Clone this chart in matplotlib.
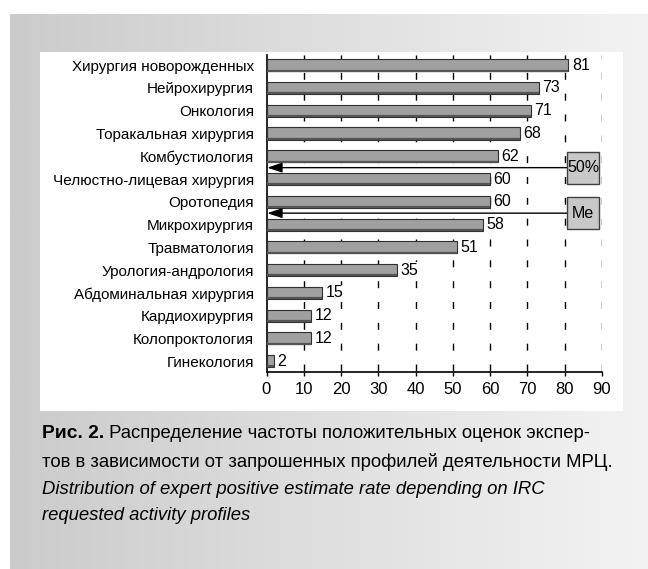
import matplotlib
matplotlib.use('Agg')

import numpy as np
import matplotlib.pyplot as plt
from matplotlib.colors import LinearSegmentedColormap
from matplotlib.patches import Rectangle

categories = [
    "Хирургия новорожденных", "Нейрохирургия", "Онкология",
    "Торакальная хирургия", "Комбустиология", "Челюстно-лицевая хирургия",
    "Оротопедия", "Микрохирургия", "Травматология", "Урология-андрология",
    "Абдоминальная хирургия", "Кардиохирургия", "Колопроктология", "Гинекология",
]
values = [81, 73, 71, 68, 62, 60, 60, 58, 51, 35, 15, 12, 12, 2]
x_ticks = [0, 10, 20, 30, 40, 50, 60, 70, 80, 90]
# reference lines: label, position between rows
ref_lines = [("50%", 4.5), ("Me", 6.5)]

caption_bold = "Рис. 2."
caption_ru_1 = " Распределение частоты положительных оценок экспер-"
caption_ru_2 = "тов в зависимости от запрошенных профилей деятельности МРЦ."
caption_en_1 = "Distribution of expert positive estimate rate depending on IRC"
caption_en_2 = "requested activity profiles"

plt.rcParams['font.family'] = ['Liberation Sans', 'DejaVu Sans']

W, H = 648, 569
fig = plt.figure(figsize=(W / 100, H / 100), dpi=100)
fig.patch.set_facecolor("white")
renderer = fig.canvas.get_renderer()


def fx(px):
    return px / W


def fy(py):
    return 1 - py / H


def fit_size(text, width_px, **kw):
    # font size that makes the text about width_px wide
    t = fig.text(0, 0, text, fontsize=10, **kw)
    w = t.get_window_extent(renderer).width
    t.remove()
    return 10 * width_px / w


# gray gradient background
bg = fig.add_axes([fx(10), 0, fx(638), fy(14)])
grad = np.linspace(0, 1, 256).reshape(1, -1)
bg.imshow(grad, cmap=LinearSegmentedColormap.from_list("g", ["#cbcbcb", "#f3f3f3"]),
          aspect="auto", extent=[0, 1, 0, 1])
bg.axis("off")

# white panel
fig.patches.append(Rectangle((fx(40), fy(411)), fx(583), (411 - 52) / H,
                             transform=fig.transFigure, fc="white", ec="none",
                             zorder=1))

ax = fig.add_axes([fx(266.5), fy(372), fx(335.5), (372 - 55) / H])
ax.set_facecolor("none")
ax.set_zorder(2)

y = np.arange(len(categories))
bh = 0.53
ax.barh(y, values, height=bh, color="#a0a0a0", edgecolor="#303030",
        linewidth=0.8, zorder=3)
# darker bottom edge of the bars
ax.hlines(y + bh / 2 - 0.03, 0, values, color="#555555", linewidth=1.6, zorder=3)

for yi, v in zip(y, values):
    ax.text(v + 0.9, yi, str(v), va="center", ha="left", fontsize=11.5, zorder=4,
            bbox=dict(boxstyle="square,pad=0.05", fc="white", ec="none"))

# dashed vertical lines
for xt in x_ticks[1:]:
    ax.plot([xt, xt], [-0.45, 13.48], color="black", linewidth=1,
            linestyle=(2.5, (5, 10)), zorder=2)

ax.set_xlim(0, 90)
ax.set_ylim(13.48, -0.45)
ax.set_xticks(x_ticks)
ax.set_xticklabels([str(t) for t in x_ticks], fontsize=12)
ax.set_yticks(y)
ax.set_yticklabels(categories, fontsize=fit_size(categories[0], 184))
ax.tick_params(axis="y", length=0, pad=9)
ax.tick_params(axis="x", direction="out", length=3, width=1, pad=4)
for s in ["top", "right"]:
    ax.spines[s].set_visible(False)
ax.spines["left"].set_linewidth(1.2)
ax.spines["bottom"].set_linewidth(1.2)

# median / 50% markers
for label, pos in ref_lines:
    ax.annotate("", xy=(0.2, pos), xytext=(80.6, pos),
                arrowprops=dict(arrowstyle="-|>,head_length=0.9,head_width=0.3",
                                color="black", lw=1, shrinkA=0, shrinkB=0),
                zorder=5)
    ax.add_patch(Rectangle((80.6, pos - 0.7), 8.6, 1.4, fc="#c8c8c8",
                           ec="#404040", lw=1, zorder=6, clip_on=False))
    ax.text(84.9, pos, label, ha="center", va="center", fontsize=11.5, zorder=7)

# caption
cap_fs = fit_size(caption_ru_2, 575)
t1 = fig.text(fx(42), fy(433), caption_bold, fontsize=cap_fs + 0.5,
              fontweight="bold", va="center", ha="left")
ax.annotate(caption_ru_1, xy=(1, 0.5), xycoords=t1, va="center", ha="left",
            fontsize=cap_fs, annotation_clip=False)
fig.text(fx(42), fy(462), caption_ru_2, fontsize=cap_fs, va="center", ha="left")
fig.text(fx(42), fy(490), caption_en_1, fontsize=cap_fs, va="center", ha="left",
         style="italic")
fig.text(fx(42), fy(516), caption_en_2, fontsize=cap_fs, va="center", ha="left",
         style="italic")

fig.savefig("out.png", dpi=100)
plt.close(fig)
